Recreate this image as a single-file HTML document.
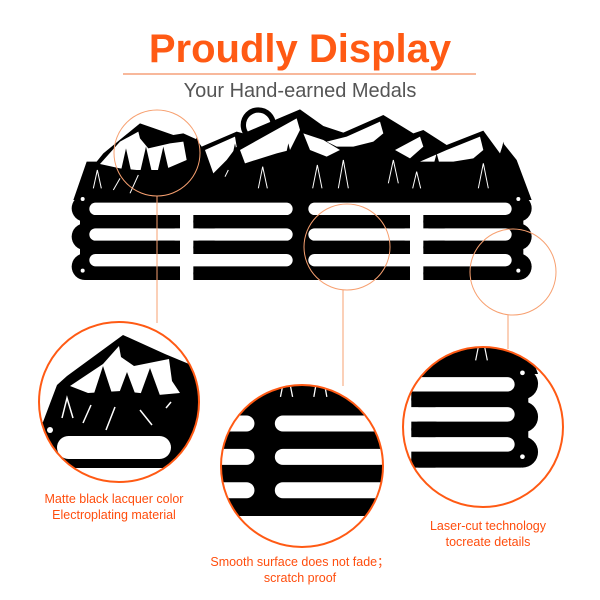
<!DOCTYPE html>
<html><head><meta charset="utf-8"><style>
html,body{margin:0;padding:0;background:#fff;width:600px;height:600px;overflow:hidden}
svg{display:block}
text{font-family:"Liberation Sans",sans-serif}
</style></head><body>
<svg width="600" height="600" viewBox="0 0 600 600" xmlns="http://www.w3.org/2000/svg">
<defs>
<g id="hz">
  <circle cx="565" cy="75" r="45" fill="none" stroke="#000" stroke-width="16"/>
  <polygon fill="#000" points="10,300 50,185 80,185 100,160 210,70 310,105 340,100 380,118 395,140 500,95 520,100 690,28 760,78 820,98 940,45 1030,100 1060,90 1130,135 1240,92 1290,160 1300,130 1340,180 1385,300"/>
  <g fill="#fff">
    <polygon points="90,192 150,125 205,95 210,115 235,145 300,130 340,125 350,180 280,210 200,210 150,205"/>
    <polygon points="405,150 495,110 500,140 470,180 430,220"/>
    <polygon points="510,150 680,55 690,90 660,150 620,160 525,190"/>
    <polygon points="700,100 760,120 810,150 770,170 720,150"/>
    <polygon points="770,125 830,110 930,65 940,100 910,125 850,140 800,140"/>
    <polygon points="975,150 1050,110 1060,140 1020,175"/>
    <polygon points="1050,185 1130,150 1230,110 1240,150 1210,175 1150,185"/>
  </g>
  <g fill="#000">
    <polygon points="168,145 140,270 196,270"/>
    <polygon points="228,140 198,270 258,270"/>
    <polygon points="280,140 250,270 310,270"/>
    <polygon points="380,110 350,270 420,270"/>
    <polygon points="495,130 465,270 525,270"/>
    <polygon points="655,130 625,270 690,270"/>
    <polygon points="900,135 865,270 935,270"/>
    <polygon points="1100,160 1070,270 1130,270"/>
    <polygon points="1300,125 1270,270 1330,270"/>
  </g>
  <g fill="none" stroke="#fff" stroke-width="3">
    <polyline points="70,265 82,210 94,265"/>
    <polyline points="565,265 578,200 592,265"/>
    <polyline points="728,265 742,195 756,265"/>
    <polyline points="805,265 820,180 835,265"/>
    <polyline points="955,250 970,180 985,250"/>
    <polyline points="1028,265 1040,215 1052,265"/>
    <polyline points="1225,265 1240,190 1255,265"/>
    <polyline points="180,280 205,225"/>
    <polyline points="130,270 150,235"/>
    <polyline points="465,230 475,210"/>
  </g>
  <rect x="30" y="280" width="1330" height="260" rx="20" fill="#000"/>
  <g fill="#000">
    <circle cx="45" cy="325" r="40"/><circle cx="45" cy="410" r="40"/><circle cx="45" cy="500" r="40"/>
    <circle cx="1345" cy="325" r="40"/><circle cx="1345" cy="410" r="40"/><circle cx="1345" cy="500" r="40"/>
  </g>
  <g fill="#fff">
    <rect x="58" y="308" width="610" height="37" rx="18.5"/><rect x="715" y="308" width="610" height="37" rx="18.5"/>
    <rect x="58" y="385" width="610" height="37" rx="18.5"/><rect x="715" y="385" width="610" height="37" rx="18.5"/>
    <rect x="58" y="462" width="610" height="37" rx="18.5"/><rect x="715" y="462" width="610" height="37" rx="18.5"/>
    <rect x="330" y="345" width="40" height="200"/><rect x="1020" y="345" width="40" height="200"/>
  </g>
  <g fill="#000">
    <rect x="250" y="345" width="80" height="40" rx="20"/><rect x="370" y="345" width="80" height="40" rx="20"/>
    <rect x="940" y="345" width="80" height="40" rx="20"/><rect x="1060" y="345" width="80" height="40" rx="20"/>
    <rect x="250" y="422" width="80" height="40" rx="20"/><rect x="370" y="422" width="80" height="40" rx="20"/>
    <rect x="940" y="422" width="80" height="40" rx="20"/><rect x="1060" y="422" width="80" height="40" rx="20"/>
    <rect x="250" y="500" width="80" height="40" rx="20"/><rect x="370" y="500" width="80" height="40" rx="20"/>
    <rect x="940" y="500" width="80" height="40" rx="20"/><rect x="1060" y="500" width="80" height="40" rx="20"/>
  </g>
  <g fill="#fff">
    <circle cx="38" cy="297" r="6"/><circle cx="38" cy="512" r="6"/><circle cx="1345" cy="297" r="6"/><circle cx="1345" cy="512" r="6"/>
  </g>
</g>
<g id="h"><g transform="translate(70,100) scale(0.33333)"><use href="#hz"/></g></g>
<clipPath id="c1"><circle cx="119" cy="402" r="80"/></clipPath>
<clipPath id="c2"><circle cx="302" cy="466" r="81"/></clipPath>
<clipPath id="c3"><circle cx="483" cy="427" r="80"/></clipPath>
</defs>

<text x="300" y="62" text-anchor="middle" font-size="40" font-weight="bold" fill="#ff5a14">Proudly Display</text>
<line x1="123" y1="74" x2="476" y2="74" stroke="#f5a07a" stroke-width="1.5"/>
<text x="300" y="97" text-anchor="middle" font-size="20" fill="#555">Your Hand-earned Medals</text>

<use href="#h"/>

<g fill="none" stroke="#f7a070" stroke-width="1">
  <circle cx="157" cy="153" r="43"/>
  <circle cx="347" cy="247" r="43"/>
  <circle cx="513" cy="272" r="43"/>
  <line x1="157" y1="196" x2="157" y2="323"/>
  <line x1="343" y1="290" x2="343" y2="386"/>
  <line x1="508" y1="315" x2="508" y2="349"/>
</g>

<g clip-path="url(#c1)">
  <polygon fill="#000" points="30,430 43,422 57,385 67,376 123,335 165,354 189,364 205,380 205,468 30,468"/>
  <polygon fill="#fff" points="70,386 103,364 119,346 121,357 134,366 169,359 172,381 180,393 158,395 121,391 88,393"/>
  <g fill="#000">
    <polygon points="103,366 88,412 118,412"/>
    <polygon points="127,372 112,412 142,412"/>
    <polygon points="150,368 134,412 166,412"/>
  </g>
  <g fill="none" stroke="#fff" stroke-width="1.5">
    <polyline points="62,418 67,398 73,418"/>
    <polyline points="83,423 91,405"/>
    <polyline points="106,430 115,407"/>
    <polyline points="140,410 152,425"/>
    <polyline points="166,408 171,402"/>
  </g>
  <rect x="57" y="436" width="114" height="23" rx="11.5" fill="#fff"/>
  <circle cx="50" cy="430" r="3" fill="#fff"/>
</g>
<g clip-path="url(#c2)"><g transform="translate(-126,152) scale(1.3)"><use href="#h"/></g></g>
<g clip-path="url(#c3)"><g transform="translate(-84,140) scale(1.17)"><use href="#h"/></g></g>

<g fill="none" stroke="#ff5a14" stroke-width="2">
  <circle cx="119" cy="402" r="80"/>
  <circle cx="302" cy="466" r="81"/>
  <circle cx="483" cy="427" r="80"/>
</g>

<g font-size="12.5" fill="#ff4d0d" text-anchor="middle">
  <text x="114" y="503">Matte black lacquer color</text>
  <text x="114" y="519">Electroplating material</text>
  <text x="300" y="566">Smooth surface does not fade；</text>
  <text x="300" y="582">scratch proof</text>
  <text x="488" y="530">Laser-cut technology</text>
  <text x="488" y="546">tocreate details</text>
</g>
</svg>
</body></html>
